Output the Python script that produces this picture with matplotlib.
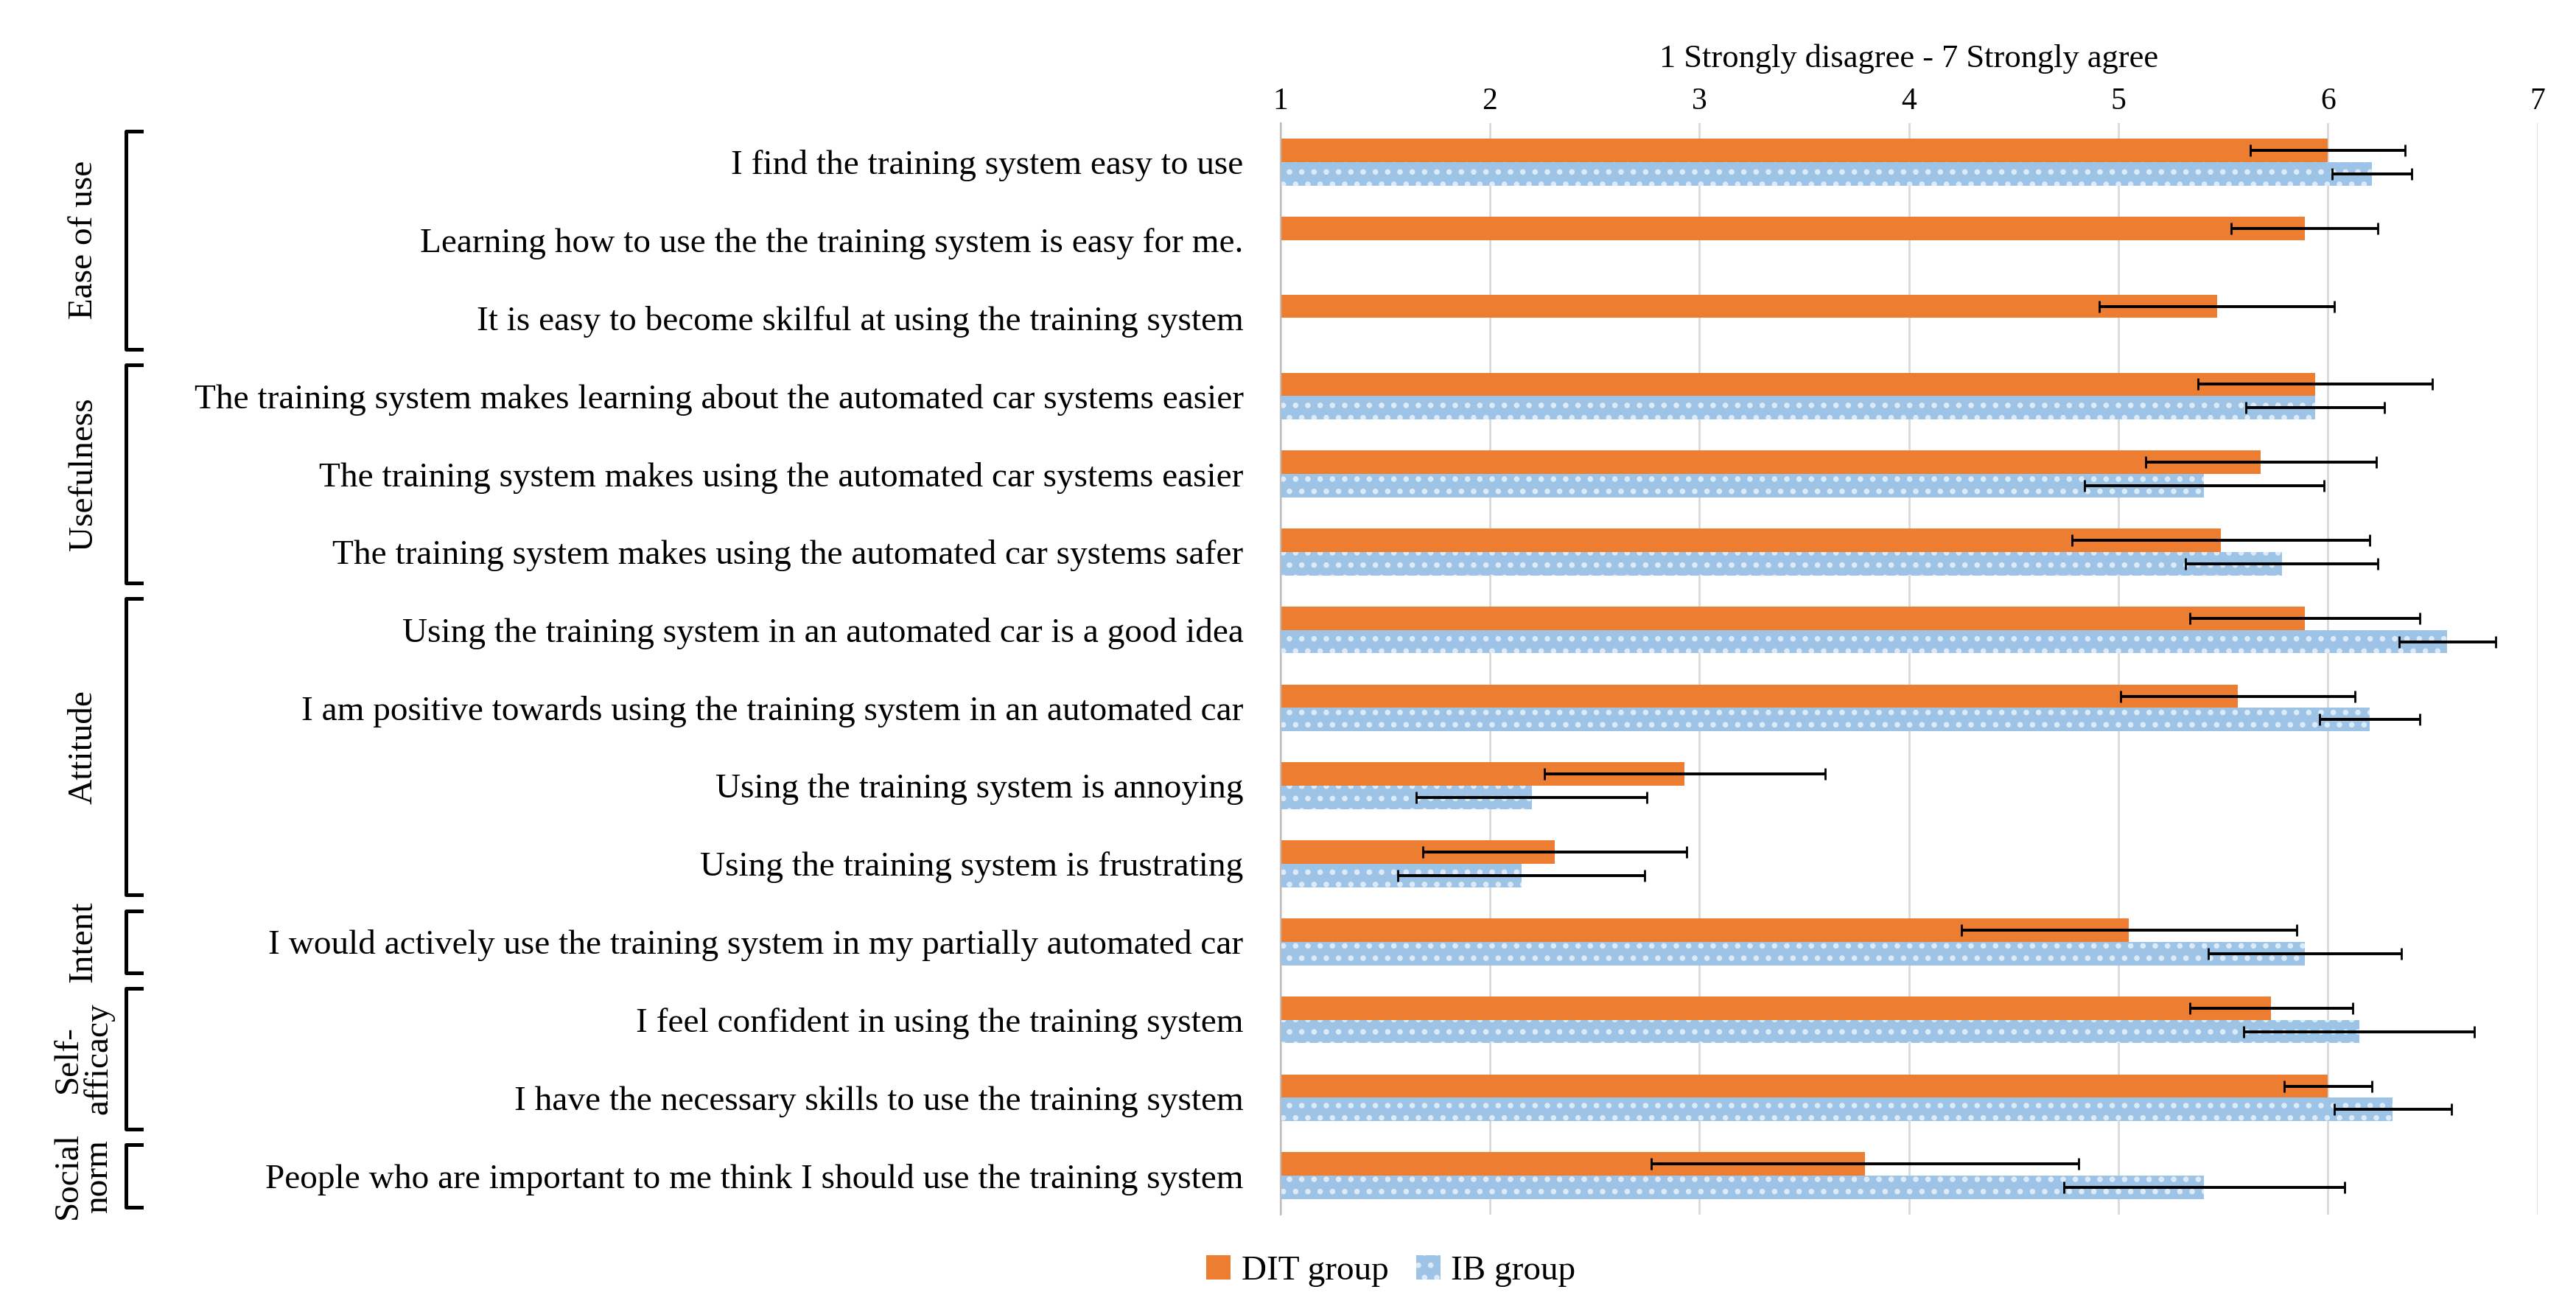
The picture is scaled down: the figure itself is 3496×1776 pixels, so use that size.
import matplotlib
matplotlib.use("Agg")
import matplotlib.pyplot as plt
import numpy as np
from matplotlib.transforms import blended_transform_factory

plt.rcParams['font.family'] = ['Liberation Serif', 'DejaVu Serif']
plt.rcParams['hatch.linewidth'] = 1.5

items = ["I find the training system easy to use",
         "Learning how to use the the training system is easy for me.",
         "It is easy to become skilful at using the training system",
         "The training system makes learning about the automated car systems easier",
         "The training system makes using the automated car systems easier",
         "The training system makes using the automated car systems safer",
         "Using the training system in an automated car is a good idea",
         "I am positive towards using the training system in an automated car",
         "Using the training system is annoying",
         "Using the training system is frustrating",
         "I would actively use the training system in my partially automated car",
         "I feel confident in using the training system",
         "I have the necessary skills to use the training system",
         "People who are important to me think I should use the training system"]
dit = [6.0, 5.89, 5.47, 5.94, 5.68, 5.49, 5.89, 5.57, 2.93, 2.31, 5.05, 5.73, 6.0, 3.79]
dit_err = [0.37, 0.35, 0.56, 0.56, 0.55, 0.71, 0.55, 0.56, 0.67, 0.63, 0.80, 0.39, 0.21, 1.02]
ib = [6.21, np.nan, np.nan, 5.94, 5.41, 5.78, 6.57, 6.20, 2.20, 2.15, 5.89, 6.15, 6.31, 5.41]
ib_err = [0.19, np.nan, np.nan, 0.33, 0.57, 0.46, 0.23, 0.24, 0.55, 0.59, 0.46, 0.55, 0.28, 0.67]
groups = [("Ease of use", 0, 2), ("Usefulness", 3, 5), ("Attitude", 6, 9),
          ("Intent", 10, 10), ("Self-\nafficacy", 11, 12), ("Social\nnorm", 13, 13)]

fig = plt.figure(figsize=(17.48, 8.88), dpi=200)
ax = fig.add_axes([0.497, 0.072, 0.488, 0.834])
y = np.arange(len(items))
h = 0.3
orange, blue = '#ED7D31', '#9DC3E6'
ax.barh(y - h/2, np.array(dit) - 1, left=1, height=h, color=orange, label='DIT group', zorder=2)
ax.barh(y + h/2, np.array(ib) - 1, left=1, height=h, color=blue, hatch='..', edgecolor='#DCEBF7',
        linewidth=0, label='IB group', zorder=2)
ax.errorbar(dit, y - h/2, xerr=dit_err, fmt='none', ecolor='black', elinewidth=1.4, capsize=3, zorder=3)
ax.errorbar(ib, y + h/2, xerr=ib_err, fmt='none', ecolor='black', elinewidth=1.4, capsize=3, zorder=3)
ax.set_xlim(1, 7)
ax.set_ylim(len(items) - 0.5, -0.5)
ax.set_xticks(range(1, 8))
ax.xaxis.tick_top()
ax.xaxis.set_label_position('top')
ax.set_xlabel("1 Strongly disagree - 7 Strongly agree", fontsize=16, labelpad=10)
ax.tick_params(axis='x', length=0, labelsize=15)
ax.set_yticks(y)
ax.set_yticklabels(items, fontsize=17)
ax.tick_params(axis='y', length=0, pad=18)
ax.grid(axis='x', color='#D9D9D9', linewidth=1, zorder=0)
for s in ['top', 'right', 'bottom']:
    ax.spines[s].set_visible(False)
ax.spines['left'].set_color('#BFBFBF')

tr = blended_transform_factory(ax.transAxes, ax.transData)
for name, a, b in groups:
    y0, y1 = a - 0.4, b + 0.4
    ax.plot([-0.906, -0.918, -0.918, -0.906], [y0, y0, y1, y1], color='black', lw=1.8,
            transform=tr, clip_on=False)
    ax.text(-0.952, (a + b) / 2, name, rotation=90, ha='center', va='center', fontsize=17,
            transform=tr, linespacing=0.95)

ax.legend(loc='upper center', bbox_to_anchor=(0.54, 0.065), bbox_transform=fig.transFigure,
          ncol=2, frameon=False, fontsize=17,
          handlelength=0.7, handleheight=0.7, columnspacing=0.8, handletextpad=0.3)
fig.savefig("out.png", dpi=200)
